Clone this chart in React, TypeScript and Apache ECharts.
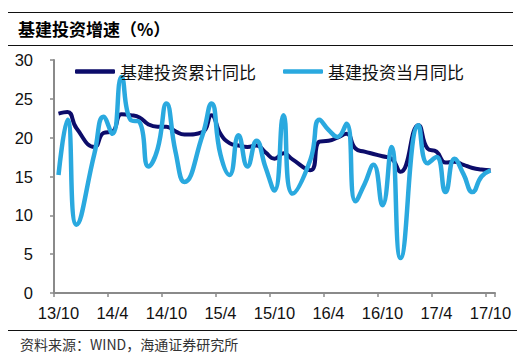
import React, { useEffect, useRef } from "react";
import * as echarts from "echarts";

const categories = [
  "13/10", "13/11", "13/12",
  "14/1", "14/2", "14/3", "14/4", "14/5", "14/6", "14/7", "14/8", "14/9", "14/10", "14/11", "14/12",
  "15/1", "15/2", "15/3", "15/4", "15/5", "15/6", "15/7", "15/8", "15/9", "15/10", "15/11", "15/12",
  "16/1", "16/2", "16/3", "16/4", "16/5", "16/6", "16/7", "16/8", "16/9", "16/10", "16/11", "16/12",
  "17/1", "17/2", "17/3", "17/4", "17/5", "17/6", "17/7", "17/8", "17/9", "17/10",
];

// 基建投资累计同比 (%)
const cumulative = [
  23.1, 23.3, 21.2,
  null, 18.8, 20.6, 20.8, 23.0, 22.9, 22.6, 21.7, 21.4, 21.4, 20.8, 20.4,
  null, 20.7, 22.9, 20.5, 19.3, 19.0, 18.8, 19.0, 18.1, 17.3, 18.0, 17.2,
  null, 15.8, 19.5, 19.6, 20.0, 20.5, 18.6, 18.2, 17.9, 17.6, 17.3, 15.6,
  null, 21.6, 18.6, 18.2, 16.8, 16.9, 16.5, 16.1, 15.9, 15.8,
];

// 基建投资当月同比 (%)
const monthly = [
  15.2, 22.3, 8.8,
  null, 18.0, 22.7, 20.5, 27.8, 22.3, 22.0, 16.3, 18.5, 24.4, 18.2, 14.3,
  null, 20.3, 24.4, 17.8, 15.2, 20.3, 16.3, 19.6, 16.2, 13.2, 22.9, 12.8,
  null, 17.2, 22.3, 21.0, 20.1, 21.8, 11.8, 14.0, 16.5, 11.3, 18.8, 4.5,
  null, 21.6, 16.7, 17.5, 13.0, 17.3, 15.3, 13.0, 15.0, 15.8,
];

const seriesNames = ["基建投资累计同比", "基建投资当月同比"];
const title = "基建投资增速（%）";
const source = "资料来源：WIND，海通证券研究所";

const DARK = "#0c0c6a";
const LIGHT = "#2aa9df";
const AXIS = "#8a8a8a";
const CJK = "'Noto Sans CJK SC', 'Noto Sans', sans-serif";
const LATIN = "'Liberation Sans', Arial, sans-serif";

export default function App() {
  const ref = useRef<HTMLDivElement>(null);

  useEffect(() => {
    if (!ref.current) return;
    const chart = echarts.init(ref.current, null, { renderer: "svg" });
    const legendCommon = {
      top: 58,
      icon: "roundRect",
      itemWidth: 40,
      itemHeight: 4.5,
      itemGap: 10,
      textStyle: { fontSize: 17, fontFamily: CJK, color: "#111" },
    };
    chart.setOption({
      animation: false,
      backgroundColor: "#ffffff",
      grid: { left: 54, right: 31, top: 60, bottom: 69 },
      legend: [
        { ...legendCommon, data: [seriesNames[0]], left: 70 },
        { ...legendCommon, data: [seriesNames[1]], left: 278 },
      ],
      xAxis: {
        type: "category",
        data: categories,
        boundaryGap: true,
        axisLine: { show: true, lineStyle: { color: AXIS, width: 2 } },
        axisTick: { show: true, interval: 5, length: 4, lineStyle: { color: AXIS, width: 1.5 } },
        axisLabel: {
          interval: 5,
          fontSize: 16.5,
          fontFamily: LATIN,
          color: "#111",
          margin: 11,
        },
        splitLine: { show: false },
      },
      yAxis: {
        type: "value",
        min: 0,
        max: 30,
        interval: 5,
        axisLine: { show: true, lineStyle: { color: AXIS, width: 2 } },
        axisTick: { show: true, length: 4, lineStyle: { color: AXIS, width: 1.5 } },
        axisLabel: { fontSize: 16.5, fontFamily: LATIN, color: "#111", margin: 21 },
        splitLine: { show: false },
      },
      series: [
        {
          name: seriesNames[0],
          type: "line",
          data: cumulative,
          smooth: 0.5,
          connectNulls: true,
          symbol: "none",
          lineStyle: { color: DARK, width: 4 },
          itemStyle: { color: DARK },
        },
        {
          name: seriesNames[1],
          type: "line",
          data: monthly,
          smooth: 0.5,
          connectNulls: true,
          symbol: "none",
          lineStyle: { color: LIGHT, width: 4.5 },
          itemStyle: { color: LIGHT },
        },
      ],
      graphic: [
        {
          type: "line",
          shape: { x1: 8, y1: 12.5, x2: 513, y2: 12.5 },
          style: { stroke: "#111", lineWidth: 1 },
        },
        {
          type: "text",
          left: 18,
          top: 20,
          style: {
            text: title,
            fontSize: 17,
            fontWeight: "bold",
            fontFamily: CJK,
            fill: "#000",
          },
        },
        {
          type: "line",
          shape: { x1: 8, y1: 45.5, x2: 513, y2: 45.5 },
          style: { stroke: "#111", lineWidth: 1 },
        },
        {
          type: "line",
          shape: { x1: 8, y1: 330.5, x2: 517, y2: 330.5 },
          style: { stroke: "#111", lineWidth: 1 },
        },
        {
          type: "text",
          left: 20,
          top: 337,
          style: {
            text: source,
            fontSize: 14,
            fontFamily: CJK,
            fill: "#333",
          },
        },
      ],
    });
    return () => chart.dispose();
  }, []);

  return <div ref={ref} style={{ width: 526, height: 362, position: "absolute", left: 0, top: 0 }} />;
}
